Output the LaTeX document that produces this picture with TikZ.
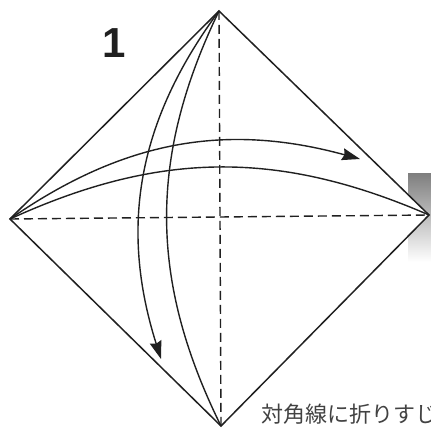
\documentclass[tikz,border=0pt]{standalone}
\usepackage{fontspec}
\newfontfamily\cjk{Noto Sans CJK JP}
\newfontfamily\numfont{Liberation Sans}
\usetikzlibrary{arrows.meta}
\definecolor{ink}{HTML}{202020}
\definecolor{shade}{HTML}{B4AFA9}
\tikzset{
  edge/.style={draw=ink, line width=1.5pt, line join=miter},
  crease/.style={draw=ink, line width=1.4pt, dash pattern=on 9pt off 5pt},
  foldarrow/.style={draw=ink, line width=1.4pt},
  tipped/.style={foldarrow, -{Stealth[length=18pt, width=12pt, inset=2pt]}},
}
\begin{document}
\begin{tikzpicture}[x=1pt, y=-1pt]
\useasboundingbox (0,0) rectangle (431,430);
\fill[white] (0,0) rectangle (431,430);
\fill[shade] (408,174) rectangle (431,262);
% corners
\coordinate (T) at (219,11);
\coordinate (L) at (10,219);
\coordinate (R) at (429,215);
\coordinate (B) at (221,426);
\coordinate (H) at (360,159);
\coordinate (V) at (161,359);
\fill[white] (T) -- (R) -- (B) -- (L) -- cycle;
\draw[edge] (T) -- (R) -- (B) -- (L) -- cycle;
\draw[crease] (T) -- (B);
\draw[crease] (L) -- (R);
% fold arrows
\draw[foldarrow] (T) to[bend right=26] (B);
\draw[tipped] (T) to[bend right=27] (V);
\draw[foldarrow] (L) to[bend left=24] (R);
\draw[tipped] (L) to[bend left=25] (H);
% labels
\node[font=\numfont\bfseries\fontsize{42}{42}\selectfont, text=ink, inner sep=0pt] (num) at (114,43) {1};
\node[font=\cjk\fontsize{22}{22}\selectfont, text=ink!85, anchor=west, inner sep=0pt] (cap) at (261,414) {対角線に折りすじ};
\end{tikzpicture}
\end{document}
